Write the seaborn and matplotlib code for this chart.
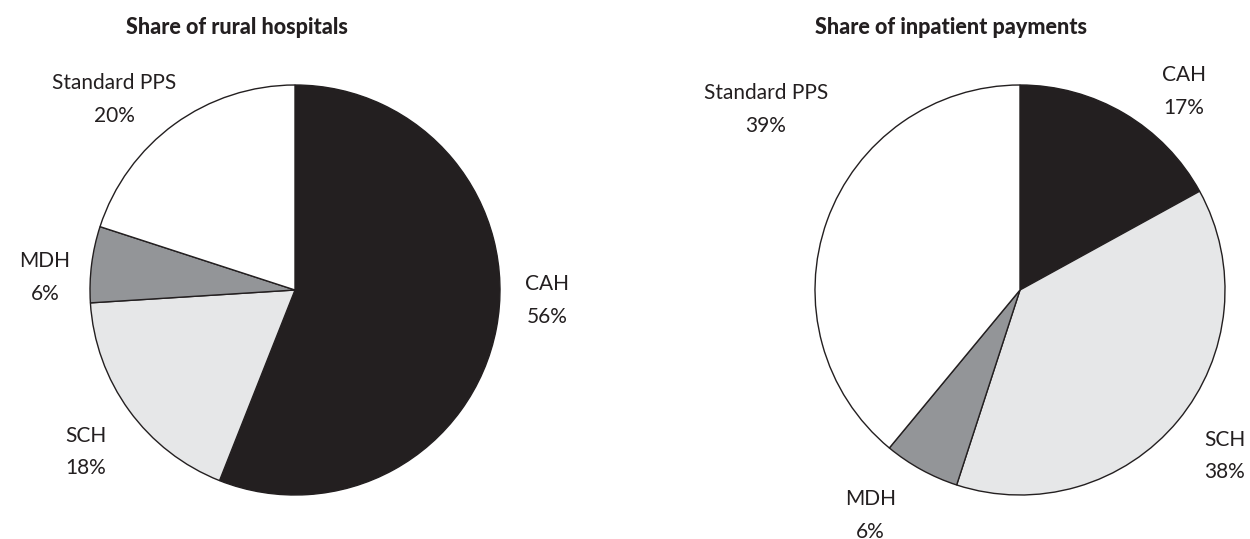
import matplotlib
matplotlib.use("Agg")
import matplotlib.pyplot as plt
import seaborn as sns

# Data
categories = ["CAH", "SCH", "MDH", "Standard PPS"]
hospital_share = [56, 18, 6, 20]
payment_share = [17, 38, 6, 39]
titles = ["Share of rural hospitals", "Share of inpatient payments"]
colors = ["#231f20", "#e6e7e8", "#939598", "#ffffff"]

sns.set_theme(style="white")
plt.rcParams["font.family"] = ["Lato", "DejaVu Sans"]

fig = plt.figure(figsize=(12.5, 5.39), dpi=100)
W, H = 1250, 539
R = 205

def pie_axes(cx, cy):
    return fig.add_axes([(cx - R) / W, (H - cy - R) / H, 2 * R / W, 2 * R / H])

ax1 = pie_axes(295, 290)
ax2 = pie_axes(1020, 290)

# hand placed label spots (in pie radii), same order as categories
label_pos = [
    [(1.23, -0.05), (-1.02, -0.79), (-1.22, 0.06), (-0.88, 0.93)],
    [(0.80, 0.97), (1.00, -0.81), (-0.73, -1.10), (-1.24, 0.88)],
]

for ax, vals, spots in [(ax1, hospital_share, label_pos[0]), (ax2, payment_share, label_pos[1])]:
    labels = [f"{c}\n{v}%" for c, v in zip(categories, vals)]
    wedges, texts = ax.pie(vals, labels=labels, colors=colors, startangle=90,
                           counterclock=False, labeldistance=1.25,
                           wedgeprops=dict(edgecolor="#231f20", linewidth=1.0),
                           textprops=dict(ha="center", va="center", fontsize=15,
                                          color="#231f20", fontweight="normal",
                                          linespacing=1.8))
    for t, p in zip(texts, spots):
        t.set_position(p)
    ax.set_xlim(-1, 1)
    ax.set_ylim(-1, 1)
    ax.set_aspect("equal")
    ax.axis("off")

fig.text(237 / W, 1 - 27 / H, titles[0], ha="center", va="center",
         fontsize=15.5, fontweight="black", color="#231f20")
fig.text(951 / W, 1 - 27 / H, titles[1], ha="center", va="center",
         fontsize=15.5, fontweight="black", color="#231f20")

fig.savefig("out.png", dpi=100, facecolor="white")
